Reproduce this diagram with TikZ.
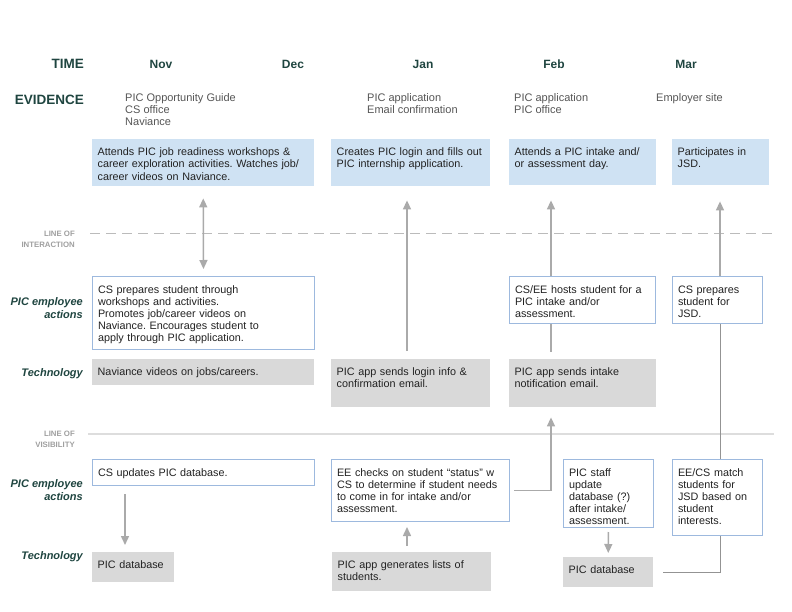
\documentclass[tikz,border=0pt]{standalone}
\usepackage{fontspec}
\setmainfont{Liberation Sans}
\usetikzlibrary{arrows.meta}
\definecolor{headgreen}{HTML}{1F4540}
\definecolor{custfill}{HTML}{CFE2F3}
\definecolor{staffline}{HTML}{9DB9DE}
\definecolor{techfill}{HTML}{D9D9D9}
\definecolor{boxtext}{HTML}{222222}
\definecolor{evidgray}{HTML}{555555}
\definecolor{linkgray}{HTML}{AAAAAA}
\definecolor{dashgray}{HTML}{BBBBBB}
\definecolor{visgray}{HTML}{DDDDDD}
\tikzset{
  custbox/.style={fill=custfill,inner xsep=5.5pt,inner ysep=7.5pt,text height=9pt,align=left,
    font=\fontsize{10.8}{12.2}\selectfont,text=boxtext},
  staffbox/.style={custbox,fill=white,draw=staffline,line width=1pt},
  techbox/.style={custbox,fill=techfill},
  headlabel/.style={inner sep=0pt,text=headgreen,font=\fontsize{13.5}{15}\selectfont\bfseries},
  monthlabel/.style={headlabel,font=\fontsize{12}{14}\selectfont\bfseries},
  evidence/.style={inner sep=0pt,anchor=north west,align=left,text=evidgray,font=\fontsize{11}{12}\selectfont},
  lanelabel/.style={inner sep=0pt,anchor=east,align=right,text=headgreen,font=\fontsize{11}{12.4}\selectfont\bfseries\itshape},
  linelabel/.style={inner sep=0pt,anchor=east,align=right,text=gray!75,font=\fontsize{7.8}{10.7}\selectfont\bfseries},
  link/.style={draw=linkgray,line width=1.5pt},
  thinlink/.style={draw=gray!85,line width=1pt},
  arrowlink/.style={link,-{Triangle[width=8pt,length=9pt]}}
}
\newcommand\stepnode[7]{\pgfmathsetmacro\tw{#5-#3-11}\pgfmathsetmacro\td{#6-#4-24}%
\node[#1,anchor=north west,text width=\tw pt,text depth=\td pt] (#2) at (#3,#4) {#7};}
\frenchspacing

\begin{document}
\begin{tikzpicture}[x=1pt,y=-1pt]
\useasboundingbox (0,0) rectangle (792,612);
\node[headlabel,anchor=east] (time) at (84,64) {TIME};
\node[headlabel,anchor=east] (evid) at (84,100) {EVIDENCE};
\foreach \m/\x in {Nov/161,Dec/293,Jan/423,Feb/554,Mar/686} \node[monthlabel] (m\m) at (\x,64) {\m};
\foreach \m/\x/\t in {Nov/125/{PIC Opportunity Guide\\CS office\\Naviance},Jan/367/{PIC application\\Email confirmation},
  Feb/514/{PIC application\\PIC office},Mar/656/{Employer site}} \node[evidence] (e\m) at (\x,93) {\t};
\foreach \n/\y/\t in {act1/308/{PIC employee\\actions},tech1/374/{Technology},act2/490/{PIC employee\\actions},tech2/557/{Technology}}
  \node[lanelabel] (\n) at (83,\y) {\t};
\node[linelabel] (lint) at (75,239.5) {LINE OF\\INTERACTION};
\node[linelabel] (lvis) at (75,439.5) {LINE OF\\VISIBILITY};
\draw[dashgray,line width=1pt,dash pattern=on 10pt off 6pt] (90,234) -- (775,234);
\draw[visgray,line width=1.5pt] (88,434) -- (774,434);
\stepnode{custbox}{a1}{92}{139}{314}{186}{Attends PIC job readiness workshops \&\\career exploration activities. Watches job/\\career videos on Naviance.}
\stepnode{custbox}{a2}{331}{139}{490}{186}{Creates PIC login and fills out\\PIC internship application.}
\stepnode{custbox}{a3}{509}{139}{656}{185}{Attends a PIC intake and/\\or assessment day.}
\stepnode{custbox}{a4}{672}{139}{769}{185}{Participates in\\JSD.}
\stepnode{staffbox}{s1}{92}{276}{314}{349}{CS prepares student through\\workshops and activities.\\Promotes job/career videos on\\Naviance. Encourages student to\\apply through PIC application.}
\stepnode{staffbox}{s2}{509}{276}{655}{323}{CS/EE hosts student for a\\PIC intake and/or\\assessment.}
\stepnode{staffbox}{s3}{672}{276}{762}{323}{CS prepares\\student for\\JSD.}
\stepnode{techbox}{t1}{92}{359}{314}{385}{Naviance videos on jobs/careers.}
\stepnode{techbox}{t2}{331}{359}{490}{407}{PIC app sends login info \&\\confirmation email.}
\stepnode{techbox}{t3}{509}{359}{656}{407}{PIC app sends intake\\notification email.}
\stepnode{staffbox}{b1}{92}{459}{314}{485}{CS updates PIC database.}
\stepnode{staffbox}{b2}{331}{459}{509}{521}{EE checks on student “status” w\\CS to determine if student needs\\to come in for intake and/or\\assessment.}
\stepnode{staffbox}{b3}{563}{459}{653}{527}{PIC staff\\update\\database (?)\\after intake/\\assessment.}
\stepnode{staffbox}{b4}{672}{459}{762}{535}{EE/CS match\\students for\\JSD based on\\student\\interests.}
\stepnode{techbox}{d1}{92}{552}{174}{582}{PIC database}
\stepnode{techbox}{d2}{332}{552}{491}{591}{PIC app generates lists of\\students.}
\stepnode{techbox}{d3}{563}{557}{653}{587}{PIC database}
\coordinate (nx) at (125,0);
\coordinate (jx) at (407,0);
\coordinate (fx) at (551,0);
\coordinate (mx) at (720,0);
\draw[link,{Triangle[width=8pt,length=9pt]}-{Triangle[width=8pt,length=9pt]},shorten <=12pt,shorten >=7pt] (a1.south) -- (s1.north);
\draw[arrowlink,shorten <=8pt,shorten >=14pt] (t2.north -| jx) -- (a2.south -| jx);
\draw[arrowlink,shorten >=15pt] (s2.north -| fx) -- (a3.south -| fx);
\draw[link,shorten >=7pt] (s2.south -| fx) -- (t3.north -| fx);
\draw[arrowlink,shorten <=4pt,shorten >=10pt] (b2.east) -| (t3.south -| fx);
\draw[arrowlink,shorten <=6pt,shorten >=5pt] (d2.north -| jx) -- (b2.south -| jx);
\draw[arrowlink,shorten <=8pt,shorten >=7pt] (b1.south -| nx) -- (d1.north -| nx);
\draw[arrowlink,shorten <=4pt,shorten >=4pt] (b3.south) -- (d3.north);
\draw[thinlink,shorten <=10pt] (d3.east) -| (b4.south -| mx);
\draw[thinlink] (b4.north -| mx) -- (s3.south -| mx);
\draw[arrowlink,shorten >=16pt] (s3.north -| mx) -- (a4.south -| mx);
\end{tikzpicture}
\end{document}
